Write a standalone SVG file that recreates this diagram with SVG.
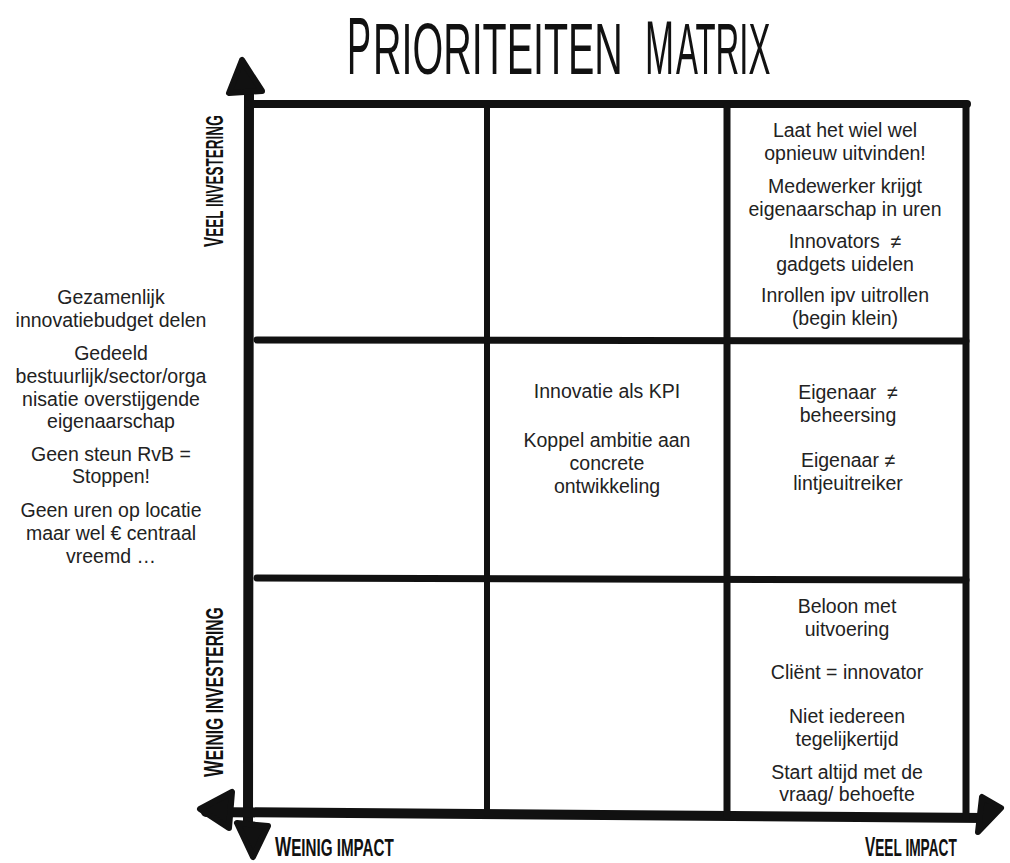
<svg xmlns="http://www.w3.org/2000/svg" width="1010" height="863" viewBox="0 0 1010 863">
  <style>
    .ax{stroke:#111;stroke-width:10;stroke-linecap:round;fill:none}
    .gr{stroke:#111;stroke-width:7;stroke-linecap:round;fill:none}
    .head{fill:#111;stroke:#111;stroke-width:6;stroke-linejoin:round}
    .t{font-family:"Liberation Sans",Arial,sans-serif;font-size:19.5px;fill:#222;text-anchor:middle}
    .head-font{font-family:"Liberation Sans",Arial,sans-serif;fill:#111}
    .cap{font-family:"Liberation Sans",Arial,sans-serif;font-weight:bold;fill:#111;font-size:24px}
    .big{font-size:27px}
    .pre{white-space:pre}
  </style>
  <rect width="1010" height="863" fill="#fff"/>

  <!-- heading, squeezed horizontally to a narrow hand-lettered look -->
  <g id="title" class="head-font">
    <text transform="translate(347,74) scale(0.44,1)" font-size="82">P</text>
    <text transform="translate(373,74) scale(0.548,1)" font-size="72">RIORITEITEN</text>
    <text transform="translate(645,74) scale(0.458,1)" font-size="76">M</text>
    <text transform="translate(676,74) scale(0.457,1)" font-size="72">ATRIX</text>
  </g>

  <!-- axes, grid and arrowheads -->
  <g id="connectors">
    <path class="ax" d="M249 92 L248 826"/>
    <path class="ax" d="M206 812 L986 818"/>
    <path class="gr" style="stroke-width:8" d="M249 104 L967 104"/>
    <path class="gr" d="M966 104 L966 818"/>
    <path class="gr" style="stroke-width:6" d="M487 108 L487 814"/>
    <path class="gr" d="M727 106 L727 816"/>
    <path class="gr" d="M257 340 L966 341"/>
    <path class="gr" d="M257 578 L966 580"/>
    <path class="head" d="M242 60 L229 93 L262 91 Z"/>
    <path class="head" d="M200 809 L232 792 L229 828 Z"/>
    <path class="head" d="M253 857 L237 823 L268 826 Z"/>
    <path class="head" d="M1001 808 L982 797 L978 832 Z"/>
  </g>

  <!-- axis captions (small caps, condensed) -->
  <g id="axis-veel-investering" class="cap" transform="translate(223,247) rotate(-90) scale(0.564,1)">
    <text x="0" y="0" class="big">V</text>
    <text x="18" y="0">EEL INVESTERING</text>
  </g>
  <g id="axis-weinig-investering" class="cap" transform="translate(223,777) rotate(-90) scale(0.653,1)">
    <text x="0" y="0" class="big">W</text>
    <text x="25.5" y="0">EINIG INVESTERING</text>
  </g>
  <g id="axis-weinig-impact" class="cap" transform="translate(275,856) scale(0.633,1)">
    <text x="0" y="0" class="big">W</text>
    <text x="25.5" y="0">EINIG IMPACT</text>
  </g>
  <g id="axis-veel-impact" class="cap" transform="translate(865,856) scale(0.57,1)">
    <text x="0" y="0" class="big">V</text>
    <text x="18" y="0">EEL IMPACT</text>
  </g>

  <!-- notes outside the grid -->
  <g id="note-left" class="t">
    <text x="111" y="304">Gezamenlijk</text>
    <text x="111" y="327">innovatiebudget delen</text>
    <text x="111" y="360">Gedeeld</text>
    <text x="111" y="383">bestuurlijk/sector/orga</text>
    <text x="111" y="406">nisatie overstijgende</text>
    <text x="111" y="428">eigenaarschap</text>
    <text x="111" y="461">Geen steun RvB =</text>
    <text x="111" y="483">Stoppen!</text>
    <text x="111" y="517">Geen uren op locatie</text>
    <text x="111" y="540">maar wel € centraal</text>
    <text x="111" y="563">vreemd …</text>
  </g>

  <!-- high investment, high impact -->
  <g id="cell-top-right" class="t">
    <text x="845" y="137">Laat het wiel wel</text>
    <text x="845" y="160">opnieuw uitvinden!</text>
    <text x="845" y="193">Medewerker krijgt</text>
    <text x="845" y="216">eigenaarschap in uren</text>
    <text x="845" y="248" class="pre">Innovators  ≠</text>
    <text x="845" y="271">gadgets uidelen</text>
    <text x="845" y="302">Inrollen ipv uitrollen</text>
    <text x="845" y="325">(begin klein)</text>
  </g>

  <!-- medium investment, medium impact -->
  <g id="cell-middle" class="t">
    <text x="607" y="398">Innovatie als KPI</text>
    <text x="607" y="447">Koppel ambitie aan</text>
    <text x="607" y="470">concrete</text>
    <text x="607" y="493">ontwikkeling</text>
  </g>

  <!-- medium investment, high impact -->
  <g id="cell-middle-right" class="t">
    <text x="848" y="399" class="pre">Eigenaar  ≠</text>
    <text x="848" y="422">beheersing</text>
    <text x="848" y="467">Eigenaar ≠</text>
    <text x="848" y="490">lintjeuitreiker</text>
  </g>

  <!-- low investment, high impact -->
  <g id="cell-bottom-right" class="t">
    <text x="847" y="613">Beloon met</text>
    <text x="847" y="636">uitvoering</text>
    <text x="847" y="679">Cliënt = innovator</text>
    <text x="847" y="723">Niet iedereen</text>
    <text x="847" y="746">tegelijkertijd</text>
    <text x="847" y="779">Start altijd met de</text>
    <text x="847" y="801">vraag/ behoefte</text>
  </g>
</svg>
